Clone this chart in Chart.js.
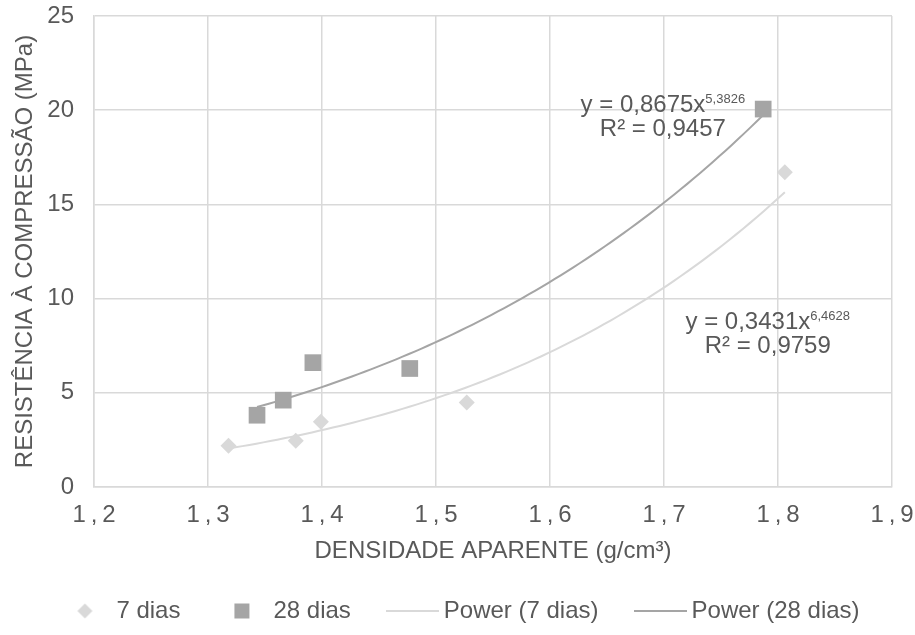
<!DOCTYPE html>
<html>
<head>
<meta charset="utf-8">
<script src="https://cdn.jsdelivr.net/npm/chart.js@4.4.1/dist/chart.umd.min.js"></script>
<style>
  html,body{margin:0;padding:0;background:#fff;}
  #wrap{width:915px;height:635px;}
</style>
</head>
<body>
<div id="wrap"><canvas id="chart" width="915" height="635"></canvas></div>
<script>
// densidade aparente (g/cm3) x resistência (MPa)
const dias7X  = [1.318, 1.377, 1.399, 1.527, 1.806];
const dias7Y  = [2.19, 2.45, 3.46, 4.49, 16.70];
const dias28X = [1.343, 1.366, 1.392, 1.477, 1.787];
const dias28Y = [3.81, 4.61, 6.60, 6.29, 20.06];

// power trendlines y = a * x^b
const power7  = {a: 0.3431, b: 6.4628, r2: 0.9759};
const power28 = {a: 0.8675, b: 5.3826, r2: 0.9457};

const xTickLabels = ['1\u2009,\u20092','1\u2009,\u20093','1\u2009,\u20094','1\u2009,\u20095','1\u2009,\u20096','1\u2009,\u20097','1\u2009,\u20098','1\u2009,\u20099'];
const seriesNames = ['7 dias', '28 dias', 'Power (7 dias)', 'Power (28 dias)'];

const C_LIGHT = '#d9d9d9', C_DARK = '#a5a5a5', C_TEXT = '#595959', C_GRID = '#d9d9d9';

const pts = (xs, ys) => xs.map((x, i) => ({x, y: ys[i]}));

function trend(fit, xs){
  const x0 = Math.min(...xs), x1 = Math.max(...xs), n = 80, out = [];
  for(let i=0;i<=n;i++){
    const x = x0 + (x1 - x0) * i / n;
    out.push({x, y: fit.a * Math.pow(x, fit.b)});
  }
  return out;
}

const fmt = (v, d) => v.toFixed(d).replace('.', ',');

// small legend markers
function icon(draw){
  const c = document.createElement('canvas'); c.width = 53; c.height = 20;
  draw(c.getContext('2d')); return c;
}
const legendIcons = [
  icon(g => { g.fillStyle = C_LIGHT; g.beginPath(); g.moveTo(26.5, 2.5); g.lineTo(34, 10); g.lineTo(26.5, 17.5); g.lineTo(19, 10); g.closePath(); g.fill(); }),
  icon(g => { g.fillStyle = C_DARK; g.fillRect(19, 2.5, 15, 15); }),
  icon(g => { g.fillStyle = C_LIGHT; g.fillRect(0, 9, 53, 2); }),
  icon(g => { g.fillStyle = C_DARK; g.fillRect(0, 9, 53, 2); })
];

const MAIN_FONT = '24px "Liberation Sans", Arial, sans-serif';
const SUP_FONT = '13px "Liberation Sans", Arial, sans-serif';

// trendline equations, anchored in data units
const equationLabels = {
  id: 'equationLabels',
  afterDatasetsDraw(chart){
    const {ctx, scales: {x, y}} = chart;
    const items = [
      {fit: power28, cx: 1.699, cy: 19.92},
      {fit: power7,  cx: 1.791, cy: 8.40}
    ];
    ctx.save();
    ctx.fillStyle = C_TEXT;
    ctx.textBaseline = 'alphabetic';
    items.forEach(it => {
      const px = x.getPixelForValue(it.cx), py = y.getPixelForValue(it.cy);
      const main = 'y = ' + fmt(it.fit.a, 4) + 'x', sup = fmt(it.fit.b, 4);
      ctx.font = MAIN_FONT;
      const wm = ctx.measureText(main).width;
      ctx.font = SUP_FONT;
      const ws = ctx.measureText(sup).width;
      const left = px - (wm + ws) / 2;
      ctx.textAlign = 'left';
      ctx.font = MAIN_FONT;
      ctx.fillText(main, left, py);
      ctx.font = SUP_FONT;
      ctx.fillText(sup, left + wm, py - 9);
      ctx.font = MAIN_FONT;
      ctx.textAlign = 'center';
      ctx.fillText('R\u00b2 = ' + fmt(it.fit.r2, 4), px, py + 24);
    });
    ctx.restore();
  }
};

Chart.defaults.font.family = '"Liberation Sans", Arial, sans-serif';
Chart.defaults.font.size = 24;
Chart.defaults.color = C_TEXT;

new Chart(document.getElementById('chart'), {
  type: 'scatter',
  data: {
    datasets: [
      {label: seriesNames[0], data: pts(dias7X, dias7Y), pointStyle: 'rectRot', pointRadius: 8, pointHoverRadius: 8,
       backgroundColor: C_LIGHT, borderColor: C_LIGHT, pointBorderWidth: 0},
      {label: seriesNames[1], data: pts(dias28X, dias28Y), pointStyle: 'rect', pointRadius: 11.8, pointHoverRadius: 11.8,
       backgroundColor: C_DARK, borderColor: C_DARK, pointBorderWidth: 0},
      {label: seriesNames[2], data: trend(power7, dias7X), showLine: true, pointRadius: 0, borderColor: C_LIGHT, borderWidth: 2, tension: 0},
      {label: seriesNames[3], data: trend(power28, dias28X), showLine: true, pointRadius: 0, borderColor: C_DARK, borderWidth: 2, tension: 0}
    ]
  },
  options: {
    responsive: false,
    animation: false,
    layout: {padding: {left: 10, right: 0, top: 16, bottom: 2}},
    plugins: {
      tooltip: {enabled: false},
      legend: {
        position: 'bottom',
        labels: {
          usePointStyle: true,
          pointStyleWidth: 39,
          padding: 42,
          color: C_TEXT,
          font: {size: 24},
          generateLabels(chart){
            const items = Chart.defaults.plugins.legend.labels.generateLabels(chart);
            items.forEach((it, i) => { it.pointStyle = legendIcons[i]; it.lineWidth = 0; });
            return items;
          }
        }
      }
    },
    scales: {
      x: {
        type: 'linear', min: 1.2, max: 1.9,
        ticks: {stepSize: 0.1, padding: 14, color: C_TEXT, callback: (v, i) => xTickLabels[i]},
        grid: {color: C_GRID, lineWidth: 1.5, drawTicks: false},
        border: {color: C_GRID, width: 1.5},
        title: {display: true, text: 'DENSIDADE APARENTE (g/cm\u00b3)', color: C_TEXT, padding: {top: 0, bottom: -8.4}},
        afterFit(s){ s.height = 70; s.paddingLeft = 0; s.paddingRight = 23; }
      },
      y: {
        min: 0, max: 25,
        ticks: {stepSize: 5, padding: 20, color: C_TEXT},
        grid: {color: C_GRID, lineWidth: 1.5, drawTicks: false},
        border: {color: C_GRID, width: 1.5},
        title: {display: true, text: 'RESISTÊNCIA À COMPRESSÃO (MPa)', color: C_TEXT, padding: {top: 1, bottom: 0}},
        afterFit(s){ s.width = 84; s.paddingTop = 0; s.paddingBottom = 0; }
      }
    }
  },
  plugins: [equationLabels]
});
</script>
</body>
</html>
